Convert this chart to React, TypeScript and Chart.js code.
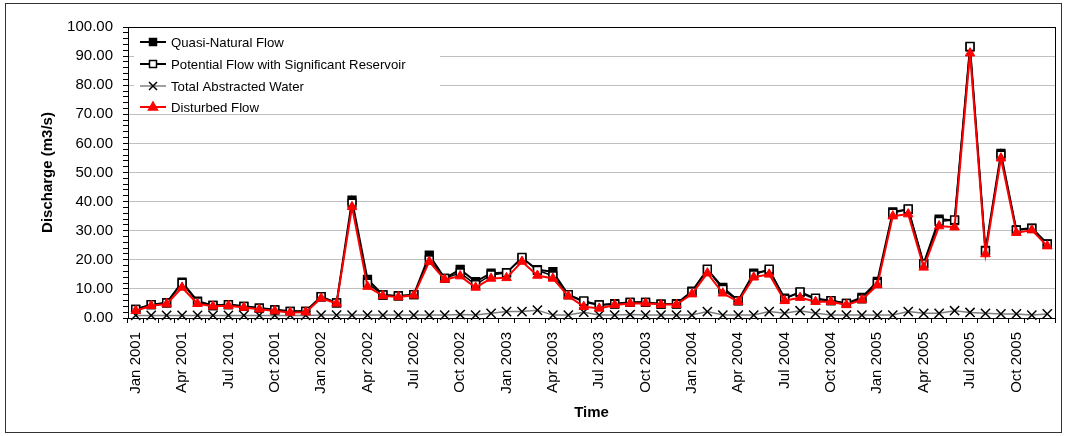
import React, { useEffect, useRef } from 'react';
import { Chart, registerables } from 'chart.js';

Chart.register(...registerables);

const MONTHS = ['Jan', 'Feb', 'Mar', 'Apr', 'May', 'Jun', 'Jul', 'Aug', 'Sep', 'Oct', 'Nov', 'Dec'];
const YEARS = [2001, 2002, 2003, 2004, 2005];
const categories = YEARS.flatMap((y) => MONTHS.map((m) => `${m} ${y}`));

const quasiNatural = [
  3.0, 4.6, 5.2, 12.3, 5.8, 4.3, 4.6, 4.0, 3.4, 2.8, 2.3, 2.3,
  7.3, 5.2, 40.5, 13.3, 7.9, 7.6, 8.0, 21.6, 13.6, 16.7, 12.5, 15.4,
  15.6, 20.6, 16.6, 15.9, 8.0, 5.6, 4.5, 4.9, 5.4, 5.4, 4.8, 4.9,
  9.2, 16.6, 10.5, 6.0, 15.4, 16.4, 6.8, 8.8, 6.4, 6.0, 5.0, 7.1,
  12.6, 36.5, 37.3, 18.7, 34.0, 33.5, 93.2, 23.2, 56.6, 30.3, 30.9, 25.5,
];

const potentialFlow = [
  3.0, 4.6, 5.2, 12.0, 5.5, 4.3, 4.6, 4.0, 3.4, 2.8, 2.3, 2.3,
  7.3, 5.2, 39.5, 12.0, 7.9, 7.6, 8.0, 20.0, 13.6, 15.5, 11.5, 14.8,
  15.5, 20.8, 16.4, 14.5, 8.0, 5.9, 4.5, 4.8, 5.4, 5.4, 4.8, 4.8,
  9.0, 16.8, 9.8, 5.9, 14.8, 16.8, 6.5, 9.0, 6.8, 6.0, 5.0, 6.6,
  12.0, 36.0, 37.5, 18.6, 33.2, 33.7, 93.3, 23.1, 56.0, 30.2, 30.8, 25.4,
];

const abstractedWater = [
  0.9, 0.9, 0.9, 0.9, 0.9, 0.9, 0.9, 0.9, 0.9, 0.9, 0.9, 0.9,
  1.0, 1.0, 1.0, 1.0, 1.0, 1.0, 1.0, 1.0, 1.0, 1.2, 1.0, 1.6,
  2.2, 2.2, 2.7, 1.0, 1.0, 2.0, 1.0, 1.0, 1.2, 1.0, 1.0, 1.0,
  1.0, 2.2, 1.0, 1.0, 1.0, 2.2, 1.6, 2.5, 1.6, 1.0, 1.0, 1.0,
  1.0, 1.0, 2.2, 1.6, 1.6, 2.5, 1.9, 1.6, 1.4, 1.4, 1.0, 1.4,
];

const disturbedFlow = [
  2.5, 4.2, 4.8, 10.5, 4.9, 4.0, 4.2, 3.6, 3.0, 2.4, 1.9, 2.0,
  6.8, 5.0, 38.2, 10.8, 7.6, 7.2, 7.8, 19.4, 13.2, 14.4, 10.5, 13.6,
  13.8, 19.4, 14.6, 13.6, 7.5, 3.9, 3.3, 4.5, 5.0, 5.1, 4.6, 4.6,
  8.2, 15.4, 8.5, 5.6, 14.0, 15.0, 5.9, 7.0, 5.6, 5.6, 4.5, 6.2,
  11.3, 35.0, 35.7, 17.4, 31.6, 31.2, 91.0, 22.0, 54.9, 29.3, 30.2, 24.7,
];

const seriesNames = [
  'Quasi-Natural Flow',
  'Potential Flow with Significant Reservoir',
  'Total Abstracted Water',
  'Disturbed Flow',
];

const FONT = "'Liberation Sans', Arial, sans-serif";

type Marker = 'rect' | 'crossRot' | 'triangle';

function drawMarker(ctx: CanvasRenderingContext2D, kind: Marker, x: number, y: number, fill: string, stroke: string) {
  ctx.save();
  ctx.lineWidth = 1.5;
  ctx.strokeStyle = stroke;
  ctx.fillStyle = fill;
  if (kind === 'rect') {
    ctx.beginPath();
    ctx.rect(x - 3.5, y - 3.5, 7, 7);
    ctx.fill();
    ctx.stroke();
  } else if (kind === 'triangle') {
    ctx.beginPath();
    ctx.moveTo(x, y - 5);
    ctx.lineTo(x + 4.5, y + 3);
    ctx.lineTo(x - 4.5, y + 3);
    ctx.closePath();
    ctx.fill();
    ctx.stroke();
  } else {
    ctx.beginPath();
    ctx.moveTo(x - 4, y - 4);
    ctx.lineTo(x + 4, y + 4);
    ctx.moveTo(x + 4, y - 4);
    ctx.lineTo(x - 4, y + 4);
    ctx.stroke();
  }
  ctx.restore();
}

const legendItems: { line: string; lw: number; marker: Marker; fill: string; stroke: string }[] = [
  { line: '#000000', lw: 2, marker: 'rect', fill: '#000000', stroke: '#000000' },
  { line: '#000000', lw: 2, marker: 'rect', fill: '#ffffff', stroke: '#000000' },
  { line: '#808080', lw: 1.5, marker: 'crossRot', fill: '#000000', stroke: '#000000' },
  { line: '#ff0000', lw: 2, marker: 'triangle', fill: '#ff0000', stroke: '#ff0000' },
];

const framePlugin = {
  id: 'framePlugin',
  afterDraw(chart: any) {
    const { ctx, chartArea } = chart;
    ctx.save();
    // legend background (hides grid lines behind legend)
    ctx.fillStyle = '#ffffff';
    ctx.fillRect(134, 30, 306, 82);
    // plot area frame
    ctx.strokeStyle = '#000000';
    ctx.lineWidth = 1;
    ctx.strokeRect(
      Math.round(chartArea.left) + 0.5,
      Math.round(chartArea.top) + 0.5,
      Math.round(chartArea.right - chartArea.left),
      Math.round(chartArea.bottom - chartArea.top)
    );
    // outer frame
    ctx.strokeStyle = '#333333';
    ctx.strokeRect(5.5, 3.5, 1056, 429);
    // legend
    const rowY = [42, 64, 86, 107];
    legendItems.forEach((it, i) => {
      const y = rowY[i];
      ctx.strokeStyle = it.line;
      ctx.lineWidth = it.lw;
      ctx.beginPath();
      ctx.moveTo(140, y);
      ctx.lineTo(166, y);
      ctx.stroke();
      drawMarker(ctx, it.marker, 153, y, it.fill, it.stroke);
      ctx.fillStyle = '#000000';
      ctx.font = `13.2px ${FONT}`;
      ctx.textAlign = 'left';
      ctx.textBaseline = 'middle';
      ctx.fillText(seriesNames[i], 171, y + 1);
    });
    ctx.restore();
  },
};

export default function App() {
  const canvasRef = useRef<HTMLCanvasElement | null>(null);

  useEffect(() => {
    const canvas = canvasRef.current;
    if (!canvas) return;
    const chart = new Chart(canvas, {
      type: 'line',
      data: {
        labels: categories,
        datasets: [
          {
            label: seriesNames[0],
            data: quasiNatural,
            borderColor: '#000000',
            backgroundColor: '#000000',
            borderWidth: 2,
            pointStyle: 'rect',
            pointRadius: 5.5,
            pointBorderWidth: 1.5,
            pointBackgroundColor: '#000000',
            pointBorderColor: '#000000',
            tension: 0,
            order: 3,
            clip: false as any,
          },
          {
            label: seriesNames[1],
            data: potentialFlow,
            borderColor: '#000000',
            backgroundColor: '#ffffff',
            borderWidth: 1.5,
            pointStyle: 'rect',
            pointRadius: 5.5,
            pointBorderWidth: 1.5,
            pointBackgroundColor: '#ffffff',
            pointBorderColor: '#000000',
            tension: 0,
            order: 2,
            clip: false as any,
          },
          {
            label: seriesNames[2],
            data: abstractedWater,
            borderColor: '#808080',
            backgroundColor: '#000000',
            borderWidth: 1.5,
            pointStyle: 'crossRot',
            pointRadius: 6.5,
            pointBorderWidth: 1.5,
            pointBorderColor: '#000000',
            tension: 0,
            order: 1,
            clip: false as any,
          },
          {
            label: seriesNames[3],
            data: disturbedFlow,
            borderColor: '#ff0000',
            backgroundColor: '#ff0000',
            borderWidth: 2,
            pointStyle: 'triangle',
            pointRadius: 5.5,
            pointBorderWidth: 1,
            pointBackgroundColor: '#ff0000',
            pointBorderColor: '#ff0000',
            tension: 0,
            order: 0,
            clip: false as any,
          },
        ],
      },
      options: {
        responsive: false,
        animation: false,
        devicePixelRatio: 1,
        layout: { padding: { top: 27, right: 11, left: 0, bottom: 0 } },
        plugins: {
          legend: { display: false },
          tooltip: { enabled: false },
          title: { display: false },
        },
        scales: {
          x: {
            type: 'category',
            offset: true,
            grid: {
              display: true,
              drawOnChartArea: false,
              drawTicks: true,
              tickLength: 5,
              offset: true,
              tickColor: '#000000',
              color: '#000000',
            },
            border: { display: true, color: '#000000', width: 1 },
            ticks: {
              autoSkip: false,
              maxRotation: 90,
              minRotation: 90,
              padding: 9,
              color: '#000000',
              font: { family: FONT, size: 15 },
              callback: (_v: any, i: number) => (i % 3 === 0 ? categories[i] : ''),
            },
            title: {
              display: true,
              text: 'Time',
              color: '#000000',
              font: { family: FONT, size: 15, weight: 'bold' },
              padding: { top: 0, bottom: 14 },
            },
            afterFit: (scale: any) => {
              scale.height = 118;
              scale.paddingLeft = 0;
              scale.paddingRight = 0;
            },
          },
          y: {
            min: 0,
            max: 100,
            grid: {
              display: true,
              drawTicks: true,
              tickLength: 5,
              tickColor: '#000000',
              color: (ctx: any) =>
                ctx.tick && ctx.tick.value % 10 === 0 && ctx.tick.value !== 0 && ctx.tick.value !== 100
                  ? '#c0c0c0'
                  : 'rgba(0,0,0,0)',
              lineWidth: 1,
            },
            border: { display: true, color: '#000000', width: 1 },
            ticks: {
              stepSize: 2,
              autoSkip: false,
              padding: 10,
              color: '#000000',
              font: { family: FONT, size: 15 },
              callback: (v: any) => (Number(v) % 10 === 0 ? Number(v).toFixed(2) : ''),
            },
            title: {
              display: true,
              text: 'Discharge (m3/s)',
              color: '#000000',
              font: { family: FONT, size: 15, weight: 'bold' },
              padding: { top: 39, bottom: 0 },
            },
            afterFit: (scale: any) => {
              scale.width = 128;
              scale.paddingTop = 0;
              scale.paddingBottom = 0;
            },
          },
        },
      } as any,
      plugins: [framePlugin],
    });
    return () => chart.destroy();
  }, []);

  return (
    <div style={{ position: 'fixed', left: 0, top: 0, width: 1066, height: 436, background: '#ffffff' }}>
      <canvas ref={canvasRef} width={1066} height={436} style={{ display: 'block', width: 1066, height: 436 }} />
    </div>
  );
}
